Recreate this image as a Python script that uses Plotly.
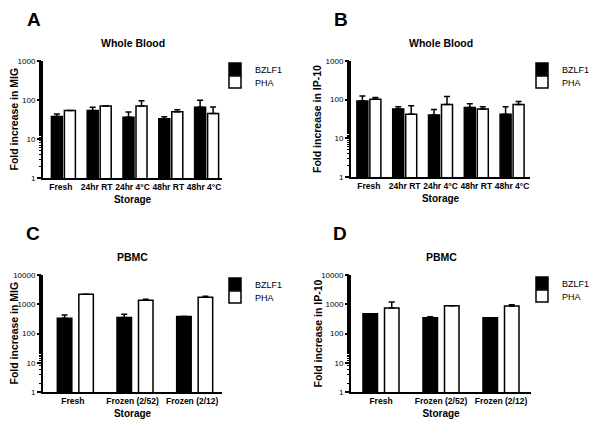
import plotly.graph_objects as go

# ---------------- data ----------------
wb_categories = ["Fresh", "24hr RT", "24hr 4°C", "48hr RT", "48hr 4°C"]
pbmc_categories = ["Fresh", "Frozen (2/52)", "Frozen (2/12)"]

mig_wb_bzlf1 = [38, 54, 36, 33, 65]
mig_wb_bzlf1_err = [6, 11, 13, 4, 33]
mig_wb_pha = [54, 70, 70, 50, 45]
mig_wb_pha_err = [0, 0, 26, 6, 21]

ip10_wb_bzlf1 = [92, 57, 40, 63, 42]
ip10_wb_bzlf1_err = [33, 9, 16, 15, 24]
ip10_wb_pha = [103, 42, 75, 57, 75]
ip10_wb_pha_err = [10, 28, 46, 9, 15]

mig_pbmc_bzlf1 = [333, 351, 380]
mig_pbmc_bzlf1_err = [100, 103, 0]
mig_pbmc_pha = [2190, 1370, 1740]
mig_pbmc_pha_err = [0, 110, 130]

ip10_pbmc_bzlf1 = [472, 344, 344]
ip10_pbmc_bzlf1_err = [0, 28, 0]
ip10_pbmc_pha = [740, 880, 865]
ip10_pbmc_pha_err = [450, 0, 95]

series_names = ["BZLF1", "PHA"]
panel_letters = ["A", "B", "C", "D"]
panel_titles = ["Whole Blood", "Whole Blood", "PBMC", "PBMC"]
y_titles = ["Fold increase in MIG", "Fold increase in IP-10",
            "Fold increase in MIG", "Fold increase in IP-10"]
x_title = "Storage"
wb_ticks = [1, 10, 100, 1000]
pbmc_ticks = [1, 10, 100, 1000, 10000]

# ---------------- layout helpers ----------------
W, H = 600, 431
PAGE_OFFSET = 8  # default body margin of the html page
FONT = "Arial, Liberation Sans, sans-serif"


def px_x(v):
    return (v - PAGE_OFFSET) / W


def px_y(v):
    return 1 - (v - PAGE_OFFSET) / H


panels = [
    dict(cats=wb_categories, b=mig_wb_bzlf1, be=mig_wb_bzlf1_err, p=mig_wb_pha, pe=mig_wb_pha_err,
         ticks=wb_ticks, xd=(43, 222), yd=(61, 178), bw=11, bg=2, shift=2.5,
         legx=215, legy=(69, 82), ytx=13),
    dict(cats=wb_categories, b=ip10_wb_bzlf1, be=ip10_wb_bzlf1_err, p=ip10_wb_pha, pe=ip10_wb_pha_err,
         ticks=wb_ticks, xd=(351, 530), yd=(61, 177), bw=11, bg=2, shift=0,
         legx=522, legy=(69, 82), ytx=317),
    dict(cats=pbmc_categories, b=mig_pbmc_bzlf1, be=mig_pbmc_bzlf1_err, p=mig_pbmc_pha, pe=mig_pbmc_pha_err,
         ticks=pbmc_ticks, xd=(43, 222), yd=(275, 392), bw=14.5, bg=7, shift=2.5,
         legx=215, legy=(284, 297), ytx=13),
    dict(cats=pbmc_categories, b=ip10_pbmc_bzlf1, be=ip10_pbmc_bzlf1_err, p=ip10_pbmc_pha, pe=ip10_pbmc_pha_err,
         ticks=pbmc_ticks, xd=(351, 531), yd=(275, 392), bw=14.5, bg=7, shift=0,
         legx=522, legy=(283, 296), ytx=317),
]

fig = go.Figure()
layout = dict(
    width=W, height=H,
    margin=dict(l=0, r=0, t=0, b=0, autoexpand=False),
    paper_bgcolor="white", plot_bgcolor="white",
    barmode="group",
    font=dict(family=FONT, color="black"),
    showlegend=True,
)
annotations = []
legend_idx = 0

for i, pn in enumerate(panels):
    n = "" if i == 0 else str(i + 1)
    xa, ya = "x" + n, "y" + n
    cat_px = (pn["xd"][1] - pn["xd"][0]) / len(pn["cats"])
    bw = pn["bw"] / cat_px
    bg = pn["bg"] / cat_px
    sh = pn["shift"] / cat_px
    offsets = [-(bw + bg / 2) + sh, bg / 2 + sh]
    for k, (name, vals, errs, fill) in enumerate([(series_names[0], pn["b"], pn["be"], "black"),
                                                  (series_names[1], pn["p"], pn["pe"], "white")]):
        legend_idx += 1
        leg = "legend" if legend_idx == 1 else "legend" + str(legend_idx)
        fig.add_trace(go.Bar(
            x=pn["cats"], y=vals, name=name, xaxis=xa, yaxis=ya, legend=leg,
            width=bw, offset=offsets[k],
            marker=dict(color=fill, line=dict(color="black", width=1.5)),
            error_y=dict(type="data", array=errs, arrayminus=[0] * len(errs), symmetric=False,
                         color="black", thickness=1.5, width=3, visible=True),
        ))
        layout[leg] = dict(
            x=px_x(pn["legx"]), y=px_y(pn["legy"][k]), xanchor="left", yanchor="middle",
            bgcolor="rgba(0,0,0,0)", font=dict(size=9, family=FONT, color="black"),
            tracegroupgap=0, itemwidth=30, borderwidth=0,
        )
    layout["xaxis" + n] = dict(
        domain=[px_x(pn["xd"][0]), px_x(pn["xd"][1])], anchor=ya,
        showline=True, linecolor="black", linewidth=2, ticks="", showgrid=False,
        tickfont=dict(size=8.5, weight="bold", family=FONT, color="black"),
        title=dict(text=x_title, font=dict(size=10, weight="bold", family=FONT, color="black"), standoff=5),
        range=[-0.5, len(pn["cats"]) - 0.5], automargin=False,
    )
    top = len(pn["ticks"]) - 1
    layout["yaxis" + n] = dict(
        domain=[px_y(pn["yd"][1]), px_y(pn["yd"][0])], anchor=xa,
        type="log", range=[0, top],
        tickvals=pn["ticks"], ticktext=[str(t) for t in pn["ticks"]],
        showline=True, linecolor="black", linewidth=2,
        ticks="outside", ticklen=4, tickwidth=1.5, tickcolor="black",
        minor=dict(ticks="outside", ticklen=2, tickwidth=1, tickcolor="black", showgrid=False),
        showgrid=False, zeroline=False,
        tickfont=dict(size=8, family=FONT, color="black"),
        automargin=False,
    )
    ymid = (pn["yd"][0] + pn["yd"][1]) / 2
    annotations.append(dict(text=y_titles[i], x=px_x(pn["ytx"]), y=px_y(ymid), textangle=-90,
                            xref="paper", yref="paper", showarrow=False,
                            xanchor="center", yanchor="middle",
                            font=dict(size=10.5, weight="bold", family=FONT, color="black")))
    cx = (pn["xd"][0] + pn["xd"][1]) / 2
    annotations.append(dict(text=panel_titles[i], x=px_x(cx), y=px_y(pn["yd"][0] - 18),
                            xref="paper", yref="paper", showarrow=False,
                            xanchor="center", yanchor="middle",
                            font=dict(size=10.5, weight="bold", family=FONT, color="black")))

letter_pos = [(34, 20), (341, 20), (33, 233), (340, 233)]
for letter, (lx, ly) in zip(panel_letters, letter_pos):
    annotations.append(dict(text=letter, x=px_x(lx), y=px_y(ly), xref="paper", yref="paper",
                            showarrow=False, xanchor="center", yanchor="middle",
                            font=dict(size=19, weight="bold", family=FONT, color="black")))

layout["annotations"] = annotations
fig.update_layout(**layout)
fig.write_html("out.html")
